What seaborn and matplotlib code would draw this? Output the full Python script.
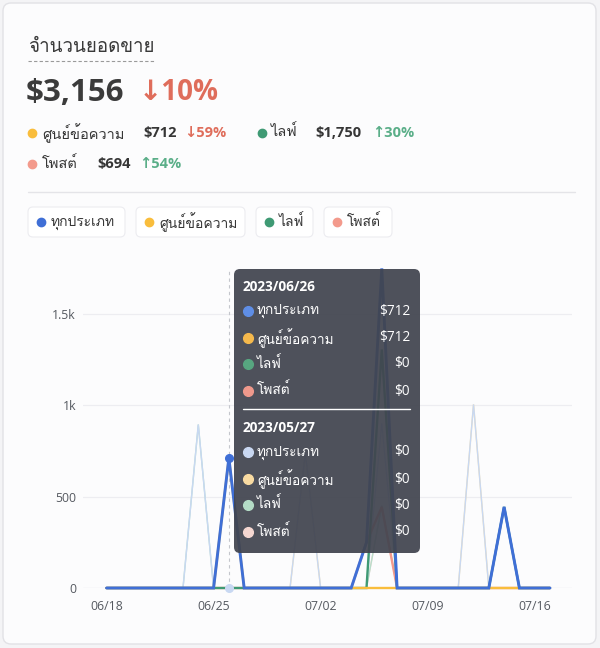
import pandas as pd
import matplotlib
matplotlib.use("Agg")
import matplotlib.pyplot as plt
import matplotlib.transforms as mtransforms
import seaborn as sns
from matplotlib import font_manager
from matplotlib.patches import FancyBboxPatch
from matplotlib.lines import Line2D

W, H = 600, 648

# ---- data -------------------------------------------------------------
dates = pd.date_range("2023-06-18", "2023-07-17")
tick_idx = [0, 7, 14, 21, 28]
tick_labels = ["06/18", "06/25", "07/02", "07/09", "07/16"]
y_ticks = [0, 500, 1000, 1500]
y_labels = ["0", "500", "1k", "1.5k"]

names = ["ทุกประเภท", "ศูนย์ข้อความ", "ไลฟ์", "โพสต์"]

# current period (06/18 - 07/17)
all_cur = [0, 0, 0, 0, 0, 0, 0, 0, 712, 0,
           0, 0, 0, 0, 0, 0, 0, 250, 1750, 0,
           0, 0, 0, 0, 0, 0, 444, 0, 0, 0]
msg_cur = [0, 0, 0, 0, 0, 0, 0, 0, 712, 0,
           0, 0, 0, 0, 0, 0, 0, 0, 0, 0,
           0, 0, 0, 0, 0, 0, 0, 0, 0, 0]
live_cur = [0, 0, 0, 0, 0, 0, 0, 0, 0, 0,
            0, 0, 0, 0, 0, 0, 0, 0, 1306, 0,
            0, 0, 0, 0, 0, 0, 444, 0, 0, 0]
post_cur = [0, 0, 0, 0, 0, 0, 0, 0, 0, 0,
            0, 0, 0, 0, 0, 0, 0, 250, 444, 0,
            0, 0, 0, 0, 0, 0, 0, 0, 0, 0]

# previous period (05/19 - 06/17), drawn on the same x positions
all_prev = [0, 0, 0, 0, 0, 0, 895, 0, 0, 0,
            0, 0, 0, 740, 0, 0, 0, 0, 902, 0,
            0, 0, 0, 0, 1005, 0, 0, 0, 0, 0]
msg_prev = [0, 0, 0, 0, 0, 0, 0, 0, 0, 0,
            0, 0, 0, 740, 0, 0, 0, 0, 0, 0,
            0, 0, 0, 0, 1005, 0, 0, 0, 0, 0]
live_prev = [0, 0, 0, 0, 0, 0, 895, 0, 0, 0,
             0, 0, 0, 0, 0, 0, 0, 0, 451, 0,
             0, 0, 0, 0, 0, 0, 0, 0, 0, 0]
post_prev = [0, 0, 0, 0, 0, 0, 0, 0, 0, 0,
             0, 0, 0, 0, 0, 0, 0, 0, 451, 0,
             0, 0, 0, 0, 0, 0, 0, 0, 0, 0]

hover_idx = 8
hover_cur = ["$712", "$712", "$0", "$0"]
hover_prev = ["$0", "$0", "$0", "$0"]

colors = ["#3f6fd6", "#f9bd3c", "#3f9a74", "#f39a8c"]
colors_prev = ["#c8d8f2", "#fbe1aa", "#b8ddcb", "#f8d4cd"]
tip_cur = ["#5f8ee6", "#f5b94c", "#57a680", "#ef998c"]
tip_prev = ["#c9d8f2", "#f9dba2", "#b4dcc6", "#f5d7d1"]


def find_thai_font():
    from fontTools.ttLib import TTFont
    for f in font_manager.fontManager.ttflist:
        try:
            tt = TTFont(f.fname, fontNumber=0, lazy=True)
            if 0x0E01 in tt.getBestCmap():
                return f.name
        except Exception:
            pass
    return None


def main():
    sns.set_theme(style="white")
    thai = find_thai_font()
    fams = ["Open Sans"] + ([thai] if thai else []) + ["DejaVu Sans"]
    plt.rcParams["font.family"] = fams

    fig = plt.figure(figsize=(W / 100, H / 100), dpi=100)
    fig.patch.set_facecolor("#f4f4f6")
    # pixel coordinates, y going down
    px = mtransforms.Affine2D().scale(1, -1).translate(0, H)

    card = FancyBboxPatch((3, 3), 593, 641, boxstyle="round,pad=0,rounding_size=8",
                          fc="#fcfcfd", ec="#e2e2e6", lw=1, transform=px, zorder=-2)
    fig.add_artist(card)

    def text(x, y, s, **kw):
        kw.setdefault("va", "center")
        kw.setdefault("ha", "left")
        fig.text(x, y, s, transform=px, **kw)

    def dot(x, y, c, ms=6, z=3):
        fig.add_artist(Line2D([x], [y], marker="o", ms=ms, color=c, mec=c,
                              ls="none", transform=px, zorder=z))

    def hline(x0, x1, y, c, lw=1, ls="-", z=2):
        fig.add_artist(Line2D([x0, x1], [y, y], color=c, lw=lw, ls=ls,
                              transform=px, zorder=z))

    dark = "#363636"
    red, green = "#df6d5b", "#5aae88"

    # ---- header ------------------------------------------------------
    text(28, 47, "จำนวนยอดขาย", fontsize=13.5, color="#3a3a3a")
    hline(28, 155, 61, "#9a9a9a", lw=0.8, ls=(0, (3, 2)))
    text(26, 93, "$3,156", fontsize=22.5, fontweight="bold", color="#3b3b3b")
    text(139, 93, "↓10%", fontsize=20, fontweight="bold", color=red)

    dot(32, 133, colors[1])
    text(42, 133, names[1], fontsize=10.5, color=dark)
    text(143, 133, "$712", fontsize=10.5, fontweight="bold", color=dark)
    text(184, 133, "↓59%", fontsize=10.5, fontweight="bold", color=red)
    dot(262, 133, colors[2])
    text(271, 133, names[2], fontsize=10.5, color=dark)
    text(315, 133, "$1,750", fontsize=10.5, fontweight="bold", color=dark)
    text(372, 133, "↑30%", fontsize=10.5, fontweight="bold", color=green)
    dot(32, 164, colors[3])
    text(42, 164, names[3], fontsize=10.5, color=dark)
    text(97, 164, "$694", fontsize=10.5, fontweight="bold", color=dark)
    text(139, 164, "↑54%", fontsize=10.5, fontweight="bold", color=green)

    hline(28, 575, 192, "#e4e4e8", lw=1)

    # ---- legend chips -----------------------------------------------
    chips = [(28, 125), (136, 245), (256, 313), (324, 392)]
    for (x0, x1), name, c in zip(chips, names, colors):
        fig.add_artist(FancyBboxPatch((x0, 207), x1 - x0, 30,
                                      boxstyle="round,pad=0,rounding_size=5",
                                      fc="white", ec="#ececf0", lw=0.8,
                                      transform=px, zorder=1))
        dot(x0 + 13, 222, c, ms=6)
        text(x0 + 23, 222, name, fontsize=10, color=dark, zorder=2)

    # ---- chart ------------------------------------------------------
    ax = fig.add_axes([83 / W, 1 - 588 / H, (572 - 83) / W, (588 - 268) / H])
    ax.patch.set_alpha(0)

    prev = pd.DataFrame({
        "date": list(dates) * 4,
        "value": all_prev + msg_prev + live_prev + post_prev,
        "series": sum([[n] * len(dates) for n in names], []),
    })
    cur = pd.DataFrame({
        "date": list(dates) * 3,
        "value": msg_cur + live_cur + post_cur,
        "series": sum([[n] * len(dates) for n in names[1:]], []),
    })
    total = pd.DataFrame({"date": dates, "value": all_cur})

    sns.lineplot(data=prev, x="date", y="value", hue="series",
                 hue_order=names[::-1], palette=dict(zip(names, colors_prev)),
                 linewidth=1.0, legend=False, ax=ax)
    sns.lineplot(data=cur, x="date", y="value", hue="series",
                 hue_order=names[1:][::-1], palette=dict(zip(names, colors)),
                 linewidth=1.7, legend=False, ax=ax)
    sns.lineplot(data=total, x="date", y="value", color=colors[0],
                 linewidth=2.1, ax=ax)
    for ln in ax.get_lines():
        ln.set_clip_on(False)
        ln.set_solid_joinstyle("miter")

    hd = dates[hover_idx]
    ax.axvline(hd, color="#c4c6cc", lw=0.8, ls=(0, (3, 3)), zorder=0.5)
    ax.plot([hd], [all_cur[hover_idx]], "o", ms=5.5, color=colors[0], zorder=5)
    ax.plot([hd], [all_prev[hover_idx]], "o", ms=5.5, color=colors_prev[0],
            zorder=5, clip_on=False)

    ax.set_ylim(0, 1752)
    ax.set_xlim(dates[0] - pd.Timedelta(days=1.54), dates[-1] + pd.Timedelta(days=1.44))
    ax.set_yticks(y_ticks)
    ax.set_yticklabels(y_labels)
    ax.set_xticks([dates[i] for i in tick_idx])
    ax.set_xticklabels(tick_labels)
    ax.tick_params(axis="both", length=0, labelsize=8.8, labelcolor="#555960")
    ax.tick_params(axis="x", pad=9)
    ax.tick_params(axis="y", pad=5)
    for y in y_ticks[1:]:
        ax.axhline(y, color="#ededf1", lw=0.9, zorder=0)
    ax.axhline(0, color="#e2e2e6", lw=0.9, zorder=0)
    ax.set_xlabel("")
    ax.set_ylabel("")
    sns.despine(ax=ax, left=True, bottom=True)

    # ---- tooltip ----------------------------------------------------
    fig.add_artist(FancyBboxPatch((234, 269), 186, 284,
                                  boxstyle="round,pad=0,rounding_size=6",
                                  fc="#41444f", ec="none", alpha=0.93,
                                  transform=px, zorder=5))
    tip = dict(fontsize=9.8, color="white", zorder=6)
    text(243, 287, "2023/06/26", fontweight="bold", **tip)
    for i, y in enumerate([311, 338, 364, 391]):
        dot(248, y, tip_cur[i], ms=7, z=6)
        text(257, y, names[i], **tip)
        text(410, y, hover_cur[i], ha="right", **tip)
    hline(243, 410, 409, "white", lw=1, z=6)
    text(243, 428, "2023/05/27", fontweight="bold", **tip)
    for i, y in enumerate([452, 479, 505, 532]):
        dot(248, y, tip_prev[i], ms=7, z=6)
        text(257, y, names[i], **tip)
        text(410, y, hover_prev[i], ha="right", **tip)

    fig.savefig("out.png", dpi=100, facecolor=fig.get_facecolor())


if __name__ == "__main__":
    main()
